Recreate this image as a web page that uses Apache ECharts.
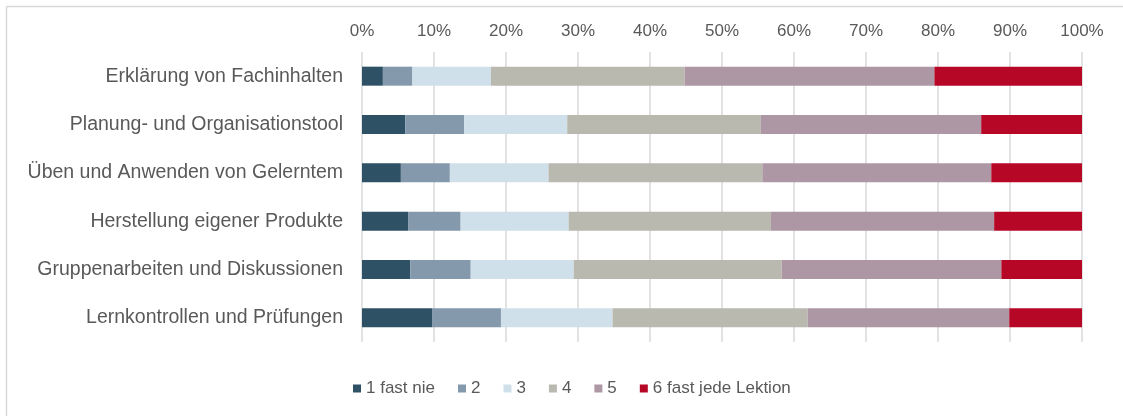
<!DOCTYPE html>
<html>
<head>
<meta charset="utf-8">
<script src="https://cdn.jsdelivr.net/npm/echarts@6/dist/echarts.min.js"></script>
<style>html,body{margin:0;padding:0;background:#fff}#c{width:1123px;height:416px}</style>
</head>
<body>
<div id="c"></div>
<script>
const categories = [
  "Erklärung von Fachinhalten",
  "Planung- und Organisationstool",
  "Üben und Anwenden von Gelerntem",
  "Herstellung eigener Produkte",
  "Gruppenarbeiten und Diskussionen",
  "Lernkontrollen und Prüfungen"
];
const seriesNames = ["1 fast nie", "2", "3", "4", "5", "6 fast jede Lektion"];
const s1 = [2.9, 6.0, 5.4, 6.4, 6.7, 9.8];
const s2 = [4.1, 8.2, 6.8, 7.3, 8.4, 9.5];
const s3 = [10.9, 14.3, 13.7, 15.0, 14.3, 15.5];
const s4 = [26.9, 26.9, 29.7, 28.1, 28.9, 27.1];
const s5 = [34.7, 30.6, 31.8, 31.0, 30.5, 28.0];
const s6 = [20.5, 14.0, 12.6, 12.2, 11.2, 10.1];
const colors = ["#2e5166", "#8499ac", "#cfe0ea", "#b9b9b0", "#ae97a4", "#b70727"];
const allSeries = [s1, s2, s3, s4, s5, s6];

const chart = echarts.init(document.getElementById('c'), null, {renderer: 'canvas'});
const font = "'Liberation Sans', Arial, sans-serif";
chart.setOption({
  animation: false,
  backgroundColor: '#fff',
  textStyle: {fontFamily: font},
  graphic: [
    {type: 'line', shape: {x1: 6.5, y1: 6.5, x2: 1123, y2: 6.5}, style: {stroke: '#d9d9d9', lineWidth: 1.5}},
    {type: 'line', shape: {x1: 6.5, y1: 6.5, x2: 6.5, y2: 416}, style: {stroke: '#d9d9d9', lineWidth: 1.5}}
  ],
  grid: {left: 362, right: 41, top: 52, bottom: 74, containLabel: false},
  legend: {
    left: 348, top: 375,
    itemWidth: 8, itemHeight: 8, itemGap: 23,
    icon: 'rect',
    textStyle: {color: '#595959', fontSize: 17, fontFamily: font},
    data: seriesNames
  },
  xAxis: {
    type: 'value', position: 'top', min: 0, max: 100, interval: 10,
    axisLabel: {formatter: '{value}%', color: '#595959', fontSize: 17, fontFamily: font, margin: 12},
    axisLine: {show: false}, axisTick: {show: false},
    splitLine: {lineStyle: {color: '#d9d9d9', width: 1.5}}
  },
  yAxis: {
    type: 'category', inverse: true, data: categories,
    axisLabel: {color: '#595959', fontSize: 19.5, fontFamily: font, margin: 19},
    axisLine: {show: false}, axisTick: {show: false}
  },
  series: allSeries.map((d, i) => ({
    name: seriesNames[i], type: 'bar', stack: 'total', barWidth: 19,
    itemStyle: {color: colors[i]},
    data: d
  }))
});
</script>
</body>
</html>
